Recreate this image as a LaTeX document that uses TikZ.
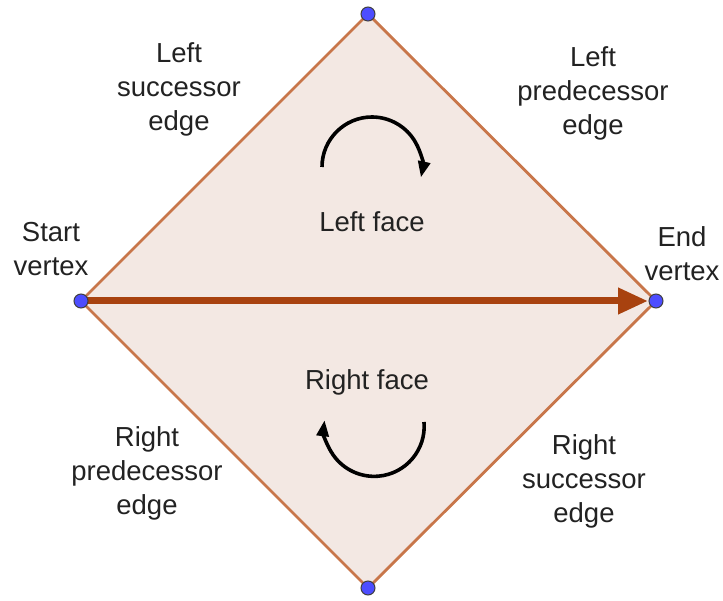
\documentclass[tikz,border=0pt]{standalone}
\usepackage{fontspec}
\setmainfont{Liberation Sans}
\usepackage{xcolor}
\usetikzlibrary{arrows.meta,calc}

\definecolor{facefill}{RGB}{243,232,227}
\definecolor{edgecol}{RGB}{200,118,74}
\definecolor{arrcol}{RGB}{168,66,15}
\definecolor{dotcol}{RGB}{77,77,255}
\definecolor{txtcol}{RGB}{34,34,34}

\begin{document}
\begin{tikzpicture}[
    x=1pt, y=1pt,
    vtx/.style={circle, fill=dotcol, draw=black!75, line width=1pt, inner sep=0pt, minimum size=14pt},
    lbl/.style={align=center, text=txtcol, font=\fontsize{27.5}{34}\selectfont},
    edgeline/.style={draw=edgecol, line width=2.8pt},
    mainarr/.style={arrcol, line width=7pt, -{Triangle[length=30pt, width=25pt]}},
    turn/.style={black, line width=3.6pt, -{Triangle[length=16pt, width=12pt]}}
]
\useasboundingbox (0,0) rectangle (723,600);

% Vertices
\coordinate (t) at (368,586);
\coordinate (l) at (81,299);
\coordinate (r) at (656,299);
\coordinate (b) at (368,12);

% Faces
\fill[facefill] (t) -- (r) -- (b) -- (l) -- cycle;
\draw[edgeline] (l) -- (t) -- (r);
\draw[edgeline] (l) -- (b) -- (r);

% Directed edge
\draw[mainarr] (l) -- ($(r)+(-8,0)$);

% Rotation arrows
\draw[turn] (322,433) arc[start angle=180, end angle=-12, radius=50];
\draw[turn] (424,178) arc[start angle=5, end angle=-187, radius=50];

% Vertex dots
\node[vtx] (tv) at (t) {};
\node[vtx] (lv) at (l) {};
\node[vtx] (rv) at (r) {};
\node[vtx] (bv) at (b) {};

% Labels
\node[lbl] (lsucc) at (179,511) {Left\\successor\\edge};
\node[lbl] (lpred) at (593,507) {Left\\predecessor\\edge};
\node[lbl] (start) at (51,351) {Start\\vertex};
\node[lbl] (endv) at (682,346) {End\\vertex};
\node[lbl] (lface) at (372,378) {Left face};
\node[lbl] (rface) at (367,218) {Right face};
\node[lbl] (rpred) at (147,127) {Right\\predecessor\\edge};
\node[lbl] (rsucc) at (584,119) {Right\\successor\\edge};
\end{tikzpicture}
\end{document}
